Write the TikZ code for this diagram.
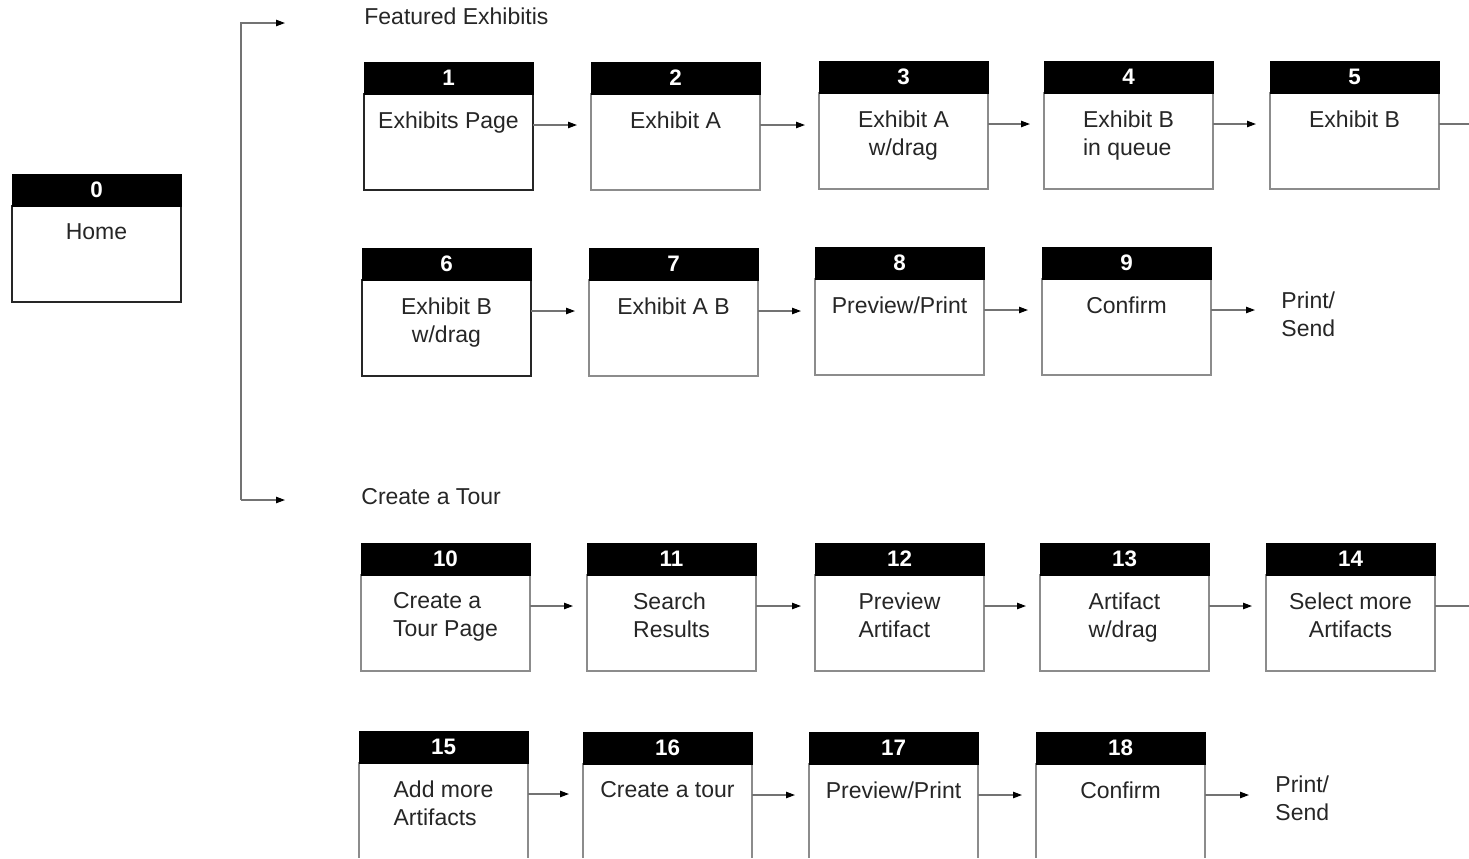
\documentclass[tikz,border=0pt]{standalone}
\usepackage{fontspec}
\setmainfont{Liberation Sans}
\usetikzlibrary{arrows.meta}
\usetikzlibrary{positioning}

\tikzset{
  pagebody/.style={draw=black!45, line width=0.6pt, fill=white, minimum width=84.5pt,
    minimum height=48pt, inner sep=0pt, outer sep=0pt, anchor=north west},
  pagehead/.style={draw=black, fill=black, text=white, font=\bfseries\fontsize{11.2}{13}\selectfont,
    minimum width=84.5pt, minimum height=16pt, inner sep=0pt, outer sep=0pt, anchor=south west},
  pagetext/.style={text=black!85, font=\fontsize{11.5}{14}\selectfont, align=center,
    inner sep=0pt, anchor=north},
  outtext/.style={text=black!85, font=\fontsize{11.5}{14}\selectfont, align=left, inner sep=0pt},
  heavy/.style={pagebody/.append style={draw=black!85, line width=1pt}},
  ragged/.style={pagetext/.append style={align=left}},
  flow/.style={draw=black!55, line width=0.6pt, -{Triangle[black, length=4.5pt, width=3.2pt]}},
  flowline/.style={draw=black!55, line width=0.6pt},
}

% #1 scope style, #2 number, #3 x, #4 y of header top (pixels), #5 text
\newcommand{\navbox}[5][]{%
  \begin{scope}[#1]
    \node[pagebody] (p#2) at (#3,#4+32) {};
    \node[pagehead] (h#2) at (p#2.north west) {#2};
    \node[pagetext] (t#2) at ([yshift=-8.5pt]p#2.north) {#5};
  \end{scope}}

\begin{document}
\begin{tikzpicture}[x=0.5pt, y=-0.5pt]
  \fill[white] (0,0) rectangle (1469,858);
  \useasboundingbox (0,0) rectangle (1469,858);
  \clip (0,0) rectangle (1469,857);

  % section titles
  \node[outtext, anchor=west] (feat) at (364,16) {Featured Exhibitis};
  \node[outtext, anchor=west] (tour) at (361,497) {Create a Tour};

  % screens
  \navbox[heavy]{0}{12}{174}{Home}
  \navbox[heavy]{1}{364}{62}{Exhibits Page}
  \navbox{2}{591}{62}{Exhibit A}
  \navbox{3}{819}{61}{Exhibit A\\w/drag}
  \navbox[ragged]{4}{1044}{61}{Exhibit B\\in queue}
  \navbox{5}{1270}{61}{Exhibit B}
  \navbox[heavy]{6}{362}{248}{Exhibit B\\w/drag}
  \navbox{7}{589}{248}{Exhibit A B}
  \navbox{8}{815}{247}{Preview/Print}
  \navbox{9}{1042}{247}{Confirm}
  \navbox[ragged]{10}{361}{543}{Create a\\Tour Page}
  \navbox[ragged]{11}{587}{543}{Search\\Results}
  \navbox[ragged]{12}{815}{543}{Preview\\Artifact}
  \navbox[ragged]{13}{1040}{543}{Artifact\\w/drag}
  \navbox{14}{1266}{543}{Select more\\Artifacts}
  \navbox[ragged]{15}{359}{731}{Add more\\Artifacts}
  \navbox{16}{583}{732}{Create a tour}
  \navbox{17}{809}{732}{Preview/Print}
  \navbox{18}{1036}{732}{Confirm}

  \node[outtext, anchor=north west] (print1) at (1281,291) {Print/\\Send};
  \node[outtext, anchor=north west] (print2) at (1275,775) {Print/\\Send};

  % flow between screens
  \foreach \a/\b in {1/2,2/3,3/4,4/5,6/7,7/8,8/9,10/11,11/12,12/13,13/14,15/16,16/17,17/18}
    \draw[flow, shorten >=7pt] ([yshift=-15.5pt]p\a.north east) coordinate (s) -- (s -| p\b.west);
  \draw[flow, shorten >=13pt] ([yshift=-15.5pt]p9.north east) coordinate (s) -- (s -| print1.west);
  \draw[flow, shorten >=13pt] ([yshift=-15.5pt]p18.north east) coordinate (s) -- (s -| print2.west);

  % rows running on past the edge
  \coordinate (edge) at (1490,0);
  \draw[flowline] ([yshift=-15.5pt]p5.north east) coordinate (s) -- (s -| edge);
  \draw[flowline] ([yshift=-15.5pt]p14.north east) coordinate (s) -- (s -| edge);

  % bracket
  \coordinate (bk) at (241,500);
  \coordinate (featin) at (285,23);
  \coordinate (tourin) at (285,500);
  \draw[flow] (bk) |- (featin);
  \draw[flow] (bk) -- (tourin);
\end{tikzpicture}
\end{document}
